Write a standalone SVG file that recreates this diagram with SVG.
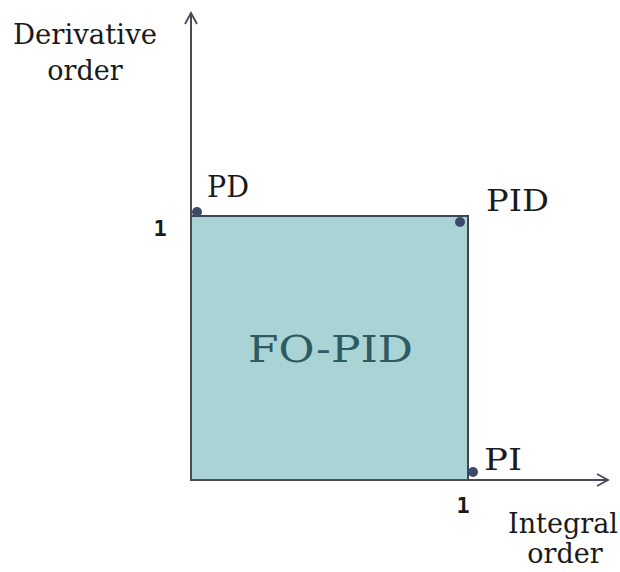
<svg xmlns="http://www.w3.org/2000/svg" width="620" height="572" viewBox="0 0 620 572">
<style>
.lbl{font-family:"DejaVu Serif","Liberation Serif",serif;fill:#1a1a1a}
.ax{stroke:#4a4a55;stroke-width:2;fill:none}
.dot{fill:#3c4a6a}
.one{font-family:"DejaVu Sans Mono","Liberation Mono",monospace;font-weight:bold;font-size:22px;fill:#1a1a1a}
</style>
<defs>
<marker id="arr" viewBox="0 0 14 14" refX="12" refY="7" markerWidth="14" markerHeight="14" markerUnits="userSpaceOnUse" orient="auto">
<path d="M1,1 L12,7 L1,13" fill="none" stroke="#4a4a55" stroke-width="1.8"/>
</marker>
</defs>
<rect width="620" height="572" fill="#ffffff"/>
<g id="region">
<rect x="191" y="216" width="277" height="264" fill="#a9d3d5" stroke="#3a4650" stroke-width="2"/>
<text x="248" y="362" textLength="165" lengthAdjust="spacingAndGlyphs" font-family="DejaVu Serif, Liberation Serif, serif" font-size="37" fill="#2e5a62">FO-PID</text>
</g>
<g id="connectors">
<line class="ax" x1="191" y1="480" x2="191" y2="13" marker-end="url(#arr)"/>
<line class="ax" x1="191" y1="480" x2="608" y2="480" marker-end="url(#arr)"/>
</g>
<g id="PD">
<circle class="dot" cx="197" cy="212" r="5"/>
<text class="lbl" x="207" y="197" font-size="30" textLength="42" lengthAdjust="spacingAndGlyphs">PD</text>
</g>
<g id="PID">
<circle class="dot" cx="460" cy="222" r="5"/>
<text class="lbl" x="486" y="211" font-size="30" textLength="63" lengthAdjust="spacingAndGlyphs">PID</text>
</g>
<g id="PI">
<circle class="dot" cx="473" cy="472" r="5"/>
<text class="lbl" x="484" y="470" font-size="30" textLength="38" lengthAdjust="spacingAndGlyphs">PI</text>
</g>
<g id="labels">
<text class="lbl" x="13" y="44" font-size="27" textLength="144" lengthAdjust="spacingAndGlyphs">Derivative</text>
<text class="lbl" x="85" y="80" text-anchor="middle" font-size="27">order</text>
<text class="one" x="160" y="236" text-anchor="middle">1</text>
<text class="one" x="463" y="513" text-anchor="middle">1</text>
<text class="lbl" x="508" y="533" font-size="27" textLength="110" lengthAdjust="spacingAndGlyphs">Integral</text>
<text class="lbl" x="565" y="563" text-anchor="middle" font-size="27">order</text>
</g>
</svg>
